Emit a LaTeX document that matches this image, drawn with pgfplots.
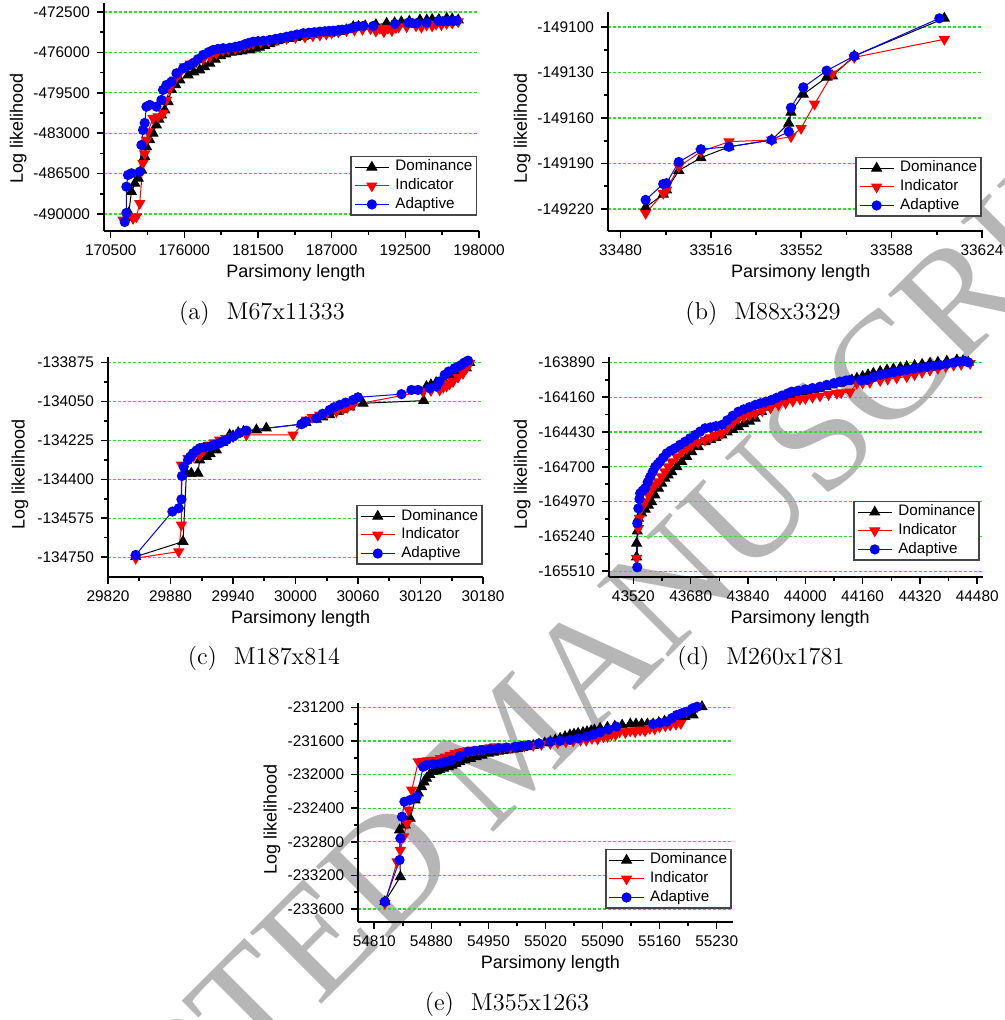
\documentclass[border=0pt]{standalone}
\usepackage{fontspec}
\newfontfamily\arial{Liberation Sans}
\newfontfamily\wmfont{Liberation Serif}
\usepackage{pgfplots}
\pgfplotsset{compat=1.18}
\definecolor{gridgreen}{RGB}{40,225,40}
\definecolor{legdraw}{RGB}{70,70,70}
\definecolor{wmgray}{RGB}{182,182,182}
\pgfplotsset{
  base/.style={
    scale only axis,
    axis x line*=bottom, axis y line*=left,
    axis line style={line width=1pt,-},
    x axis line style={-}, y axis line style={-},
    tick align=outside,
    major tick length=3.5pt, minor tick length=2pt,
    every tick/.style={black,line width=0.8pt},
    minor x tick num=1, minor y tick num=1,
    ymajorgrids,
    major grid style={gridgreen, dash pattern=on 1.5pt off 1pt, line width=0.6pt},
    /pgf/number format/.cd, fixed, precision=1, 1000 sep={}, assume math mode=true,
    /pgfplots/.cd,
    scaled ticks=false,
    tick label style={font=\arial\fontsize{7.7}{8}\selectfont},
    label style={font=\arial\fontsize{9}{10}\selectfont},
    xlabel={Parsimony length}, ylabel={Log likelihood},
    legend cell align=left,
    legend style={font=\arial\fontsize{7.6}{8}\selectfont, draw=legdraw, line width=0.8pt,
      inner xsep=1.5pt, inner ysep=1.2pt, row sep=1pt, column sep=2.5pt, anchor=south east,
      nodes={inner sep=0.5pt, text height=5.5pt, text depth=1.8pt}},
  },
  dom/.style={black, line width=0.5pt, mark=triangle*, mark size=2.8pt, mark options={solid,fill=black}},
  ind/.style={red, line width=0.5pt, mark=triangle*, mark size=2.8pt, mark options={solid,fill=red,rotate=180}},
  ada/.style={blue, line width=0.5pt, mark=*, mark size=2.3pt, mark options={solid,fill=blue}},
}
\begin{document}
\begin{tikzpicture}
\path[use as bounding box] (0,0) rectangle (502pt,510pt);
\begin{scope}
\clip (0,0) rectangle (502pt,510pt);
\node[text=wmgray, rotate=45, anchor=center, inner sep=0pt] at (255.5pt,138pt) {\wmfont\fontsize{77}{77}\selectfont ACCEPTED MANUSCRIPT};
\end{scope}
% ---------------- (a)
\begin{axis}[base, at={(52pt,394.5pt)}, anchor=south west, width=187.5pt, height=114pt,
  xmin=170000, xmax=198000, ymin=-491465, ymax=-471720,
  xtick={170500,176000,181500,187000,192500,198000},
  ytick={-490000,-486500,-483000,-479500,-476000,-472500},
  xlabel style={at={(axis description cs:0.512,-0.184)}, anchor=center},
  ylabel style={at={(axis description cs:-0.229,0.45)}, anchor=center},
  legend style={at={(axis description cs:0.995,0.066)}}]
\addplot[dom] coordinates {
(171650,-490300) (171850,-489900) (172050,-488060) (172300,-487340) (172550,-486900)
(172800,-486180) (173040,-485030) (173170,-484170) (173410,-483580) (173660,-483000)
(173910,-482290) (174100,-481800) (174290,-481420) (174540,-480990) (174780,-480270)
(175040,-479250) (175350,-478800) (175660,-478390) (176280,-477960) (176700,-477700)
(177150,-477520) (177500,-477250) (177900,-476940) (178300,-476600) (178700,-476300)
(179100,-476150) (179500,-476000) (179900,-475950) (180300,-475880) (180890,-475790)
(181300,-475650) (181600,-475550) (182000,-475400) (182380,-475250) (182700,-475100)
(183000,-475000) (183400,-474900) (183800,-474800) (184300,-474720) (184870,-474640)
(185300,-474550) (185800,-474450) (186300,-474400) (186870,-474340) (187300,-474270)
(187700,-474200) (188100,-474050) (188610,-473770) (189000,-473740) (189500,-473700)
(190300,-473600) (191100,-473480) (191700,-473440) (192200,-473350) (192800,-473300)
(193590,-473190) (194100,-473200) (194500,-473150) (195000,-473150) (195590,-473050)
(196000,-473100) (196450,-473190)};
\addplot[ind] coordinates {
(171420,-490510) (172170,-490370) (172420,-490230) (172670,-489070) (172910,-485600)
(173040,-484780) (173170,-483580) (173290,-482870) (173660,-481700) (174040,-481570)
(174410,-481270) (174660,-480120) (174910,-479110) (175280,-478390) (175650,-477800)
(176030,-477240) (176450,-477000) (176900,-476800) (177400,-476580) (177900,-476370)
(178400,-476080) (178890,-475790) (179300,-475720) (179800,-475650) (180150,-475520)
(180500,-475400) (180800,-475300) (181130,-475210) (181700,-475100) (182300,-475000)
(182900,-474900) (183630,-474780) (184300,-474700) (185000,-474650) (185600,-474560)
(186120,-474490) (186600,-474400) (187000,-474300) (187500,-474220) (188110,-474120)
(188700,-474060) (189300,-474000) (189900,-473950) (190300,-474150) (190600,-473910)
(190900,-474200) (191200,-473900) (191500,-474100) (191800,-473850) (192000,-473800)
(192600,-473770) (193300,-473700) (193700,-473800) (194090,-473630) (194500,-473700)
(194800,-473550) (195200,-473600) (195590,-473480) (196000,-473450) (196450,-473340)};
\addplot[ada] coordinates {
(171546,-490686) (171673,-489900) (171673,-487630) (171793,-486616) (172047,-486470)
(172667,-486330) (172794,-484020) (172914,-482720) (173041,-482110) (173168,-480700)
(173414,-480550) (173915,-480700) (174289,-480120) (174408,-479250) (174662,-478820)
(175036,-478540) (175410,-477810) (175903,-477380) (176300,-477150) (176650,-476940)
(177000,-476600) (177398,-476220) (177800,-475980) (178145,-475790) (178500,-475700)
(178900,-475640) (179393,-475600) (179800,-475520) (180140,-475440) (180500,-475300)
(180800,-475180) (181134,-475070) (181500,-475030) (181900,-474990) (182382,-474920)
(182800,-474830) (183200,-474740) (183630,-474640) (184000,-474550) (184400,-474450)
(184871,-474340) (185300,-474290) (185700,-474250) (186118,-474200) (186500,-474170)
(186800,-474140) (187112,-474120) (187500,-474070) (187800,-474030) (188114,-474000)
(188500,-473880) (188861,-473770) (189354,-473710) (190102,-473710) (191723,-473540)
(192717,-473430) (193000,-473460) (193345,-473480) (194093,-473430) (194959,-473280)
(195300,-473300) (195700,-473290) (196080,-473280) (196334,-473250)};
\legend{Dominance,Indicator,Adaptive}
\end{axis}
% ---------------- (b)
\begin{axis}[base, at={(304pt,394.5pt)}, anchor=south west, width=187.5pt, height=109.5pt,
  xmin=33475, xmax=33624.4, ymin=-149234.5, ymax=-149090.1,
  xtick={33480,33516,33552,33588,33624},
  ytick={-149220,-149190,-149160,-149130,-149100},
  xlabel style={at={(axis description cs:0.514,-0.19)}, anchor=center},
  ylabel style={at={(axis description cs:-0.229,0.466)}, anchor=center},
  legend style={at={(axis description cs:0.997,0.064)}}]
\addplot[dom] coordinates {
(33490,-149218.9) (33497,-149210.3) (33498.3,-149207.5) (33503.2,-149194.7) (33512,-149186.2)
(33523.2,-149179) (33540.2,-149174.5) (33547,-149163.5) (33547.9,-149156.2) (33552.8,-149144.4)
(33562.1,-149133.2) (33564.4,-149132.3) (33573.1,-149119.1) (33609,-149094.3)};
\addplot[ind] coordinates {
(33490,-149222.8) (33497,-149209.6) (33498.3,-149207.5) (33503.2,-149192.1) (33512,-149182.2)
(33523.2,-149175.6) (33540.2,-149174.5) (33547.9,-149172.3) (33551.9,-149166.8) (33557.3,-149150.8)
(33564.4,-149131) (33573.1,-149120) (33609,-149108.1)};
\addplot[ada] coordinates {
(33490,-149214) (33497,-149203.5) (33498.3,-149203) (33503.2,-149189) (33512,-149180.6)
(33523.2,-149179) (33540.2,-149174.5) (33547,-149169) (33547.9,-149153.2) (33552.8,-149139.8)
(33562.1,-149128.8) (33573.1,-149119.1) (33607,-149094.3)};
\legend{Dominance,Indicator,Adaptive}
\end{axis}
% ---------------- (c)
\begin{axis}[base, at={(54pt,221.65pt)}, anchor=south west, width=187.5pt, height=109.7pt,
  xmin=29820, xmax=30180, ymin=-134838, ymax=-133851,
  xtick={29820,29880,29940,30000,30060,30120,30180},
  ytick={-134750,-134575,-134400,-134225,-134050,-133875},
  xlabel style={at={(axis description cs:0.514,-0.19)}, anchor=center},
  ylabel style={at={(axis description cs:-0.235,0.468)}, anchor=center},
  legend style={at={(axis description cs:1.0,0.053)}}]
\addplot[dom] coordinates {
(29846.6,-134748) (29892,-134680) (29895.3,-134373) (29900,-134373) (29906.4,-134373)
(29908,-134313) (29914.5,-134298) (29918,-134285) (29924,-134268) (29930,-134235)
(29936.8,-134200) (29940,-134205) (29945,-134190) (29950,-134185) (29962.5,-134178)
(29972,-134170) (30005.7,-134152) (30010,-134145) (30020,-134130) (30026,-134120)
(30032.8,-134110) (30040,-134095) (30045,-134085) (30052,-134075) (30064.8,-134058)
(30123,-134046) (30125.7,-133983) (30130,-133975) (30135,-133965) (30142,-133950)
(30148,-133930) (30152,-133920) (30156,-133915) (30160,-133905) (30164,-133900)
(30167.2,-133875)};
\addplot[ind] coordinates {
(29846.6,-134755) (29887.9,-134725) (29890.5,-134605) (29890.5,-134335) (29896.8,-134305)
(29902,-134297) (29908,-134290) (29912,-134268) (29917.6,-134245) (29922,-134235)
(29927.2,-134223) (29933,-134215) (29940,-134208) (29952.9,-134200) (29997.6,-134200)
(30010.5,-134133) (30016,-134120) (30023.2,-134110) (30030,-134102) (30039.3,-134095)
(30046,-134082) (30050,-134075) (30055.2,-134065) (30122.4,-134005) (30130,-134000)
(30138.4,-133998) (30142,-133985) (30145,-133980) (30148,-133970) (30151.2,-133960)
(30156,-133940) (30160.8,-133923) (30164,-133900) (30167.2,-133878)};
\addplot[ada] coordinates {
(29846.6,-134740) (29881.8,-134545) (29887.9,-134530) (29890.5,-134490) (29891,-134385)
(29892.7,-134343) (29896.8,-134313) (29899,-134298) (29901.6,-134283) (29905,-134270)
(29908,-134260) (29912,-134256) (29917.6,-134253) (29922,-134245) (29927.2,-134238)
(29930,-134230) (29934,-134222) (29940,-134208) (29946,-134192) (29952.9,-134181)
(30005.7,-134152) (30010,-134140) (30020,-134125) (30026,-134105) (30032.8,-134088)
(30037,-134076) (30042.4,-134065) (30048,-134055) (30055.2,-134043) (30060,-134031)
(30101.7,-134017) (30111.3,-133998) (30117.6,-133998) (30128.8,-133990) (30135.3,-133983)
(30138,-133960) (30143.2,-133930) (30147,-133915) (30152.8,-133900) (30156,-133893)
(30159.3,-133885) (30162,-133875) (30165.6,-133866)};
\legend{Dominance,Indicator,Adaptive}
\end{axis}
% ---------------- (d)
\begin{axis}[base, at={(304.5pt,221.65pt)}, anchor=south west, width=187pt, height=109.7pt,
  xmin=43452, xmax=44496, ymin=-165553, ymax=-163851,
  xtick={43520,43680,43840,44000,44160,44320,44480},
  ytick={-165510,-165240,-164970,-164700,-164430,-164160,-163890},
  xlabel style={at={(axis description cs:0.511,-0.19)}, anchor=center},
  ylabel style={at={(axis description cs:-0.232,0.468)}, anchor=center},
  legend style={at={(axis description cs:0.992,0.072)}}]
\addplot[dom] coordinates {
(43529,-165400) (43529,-165294) (43531,-165200) (43534,-165100) (43543,-165060)
(43553,-165030) (43562,-165000) (43571,-164972) (43580,-164920) (43590,-164867)
(43599,-164828) (43608,-164790) (43617,-164765) (43627,-164739) (43641,-164700)
(43655,-164661) (43669,-164622) (43683,-164584) (43701,-164545) (43720,-164506)
(43735,-164490) (43750,-164473) (43767,-164454) (43782,-164432) (43797,-164411)
(43813,-164390) (43828,-164368) (43844,-164347) (43860,-164325) (43878,-164273)
(43895,-164240) (43912,-164205) (43930,-164170) (43950,-164160) (43970,-164148)
(43990,-164133) (44005,-164120) (44023,-164105) (44040,-164093) (44058,-164080)
(44075,-164066) (44095,-164053) (44116,-164040) (44130,-164027) (44144,-164014)
(44160,-164000) (44175,-163987) (44190,-163975) (44209,-163962) (44228,-163950)
(44246,-163941) (44265,-163932) (44283,-163924) (44305,-163915) (44326,-163906)
(44348,-163898) (44370,-163890) (44395,-163882) (44423,-163872) (44440,-163880)
(44455,-163890)};
\addplot[ind] coordinates {
(43529,-165410) (43534,-165178) (43537,-165100) (43539,-165036) (43546,-165000)
(43553,-164972) (43562,-164920) (43571,-164867) (43580,-164840) (43590,-164816)
(43599,-164778) (43608,-164739) (43617,-164700) (43627,-164661) (43641,-164622)
(43655,-164584) (43669,-164558) (43683,-164532) (43701,-164512) (43720,-164493)
(43735,-164475) (43750,-164458) (43767,-164441) (43782,-164400) (43797,-164362)
(43813,-164325) (43828,-164312) (43844,-164299) (43860,-164286) (43880,-164266)
(43903,-164244) (43925,-164221) (43945,-164205) (43965,-164190) (43985,-164175)
(44000,-164170) (44020,-164160) (44041,-164150) (44065,-164140) (44088,-164130)
(44100,-164125) (44125,-164120) (44144,-164053) (44160,-164050) (44180,-164045)
(44209,-164030) (44230,-164020) (44255,-164010) (44283,-164001) (44305,-163985)
(44326,-163967) (44348,-163950) (44370,-163937) (44392,-163924) (44414,-163911)
(44435,-163905) (44460,-163898)};
\addplot[ada] coordinates {
(43531,-165480) (43531,-165139) (43534,-165023) (43537,-164950) (43539,-164906)
(43546,-164885) (43553,-164867) (43560,-164820) (43567,-164778) (43574,-164740)
(43581,-164700) (43588,-164680) (43594,-164661) (43603,-164630) (43613,-164596)
(43624,-164575) (43636,-164557) (43650,-164530) (43664,-164506) (43678,-164480)
(43692,-164454) (43706,-164428) (43720,-164402) (43735,-164395) (43750,-164385)
(43767,-164376) (43782,-164340) (43797,-164305) (43813,-164273) (43828,-164255)
(43844,-164238) (43860,-164221) (43875,-164208) (43890,-164195) (43906,-164182)
(43920,-164165) (43935,-164148) (43950,-164132) (43962,-164118) (43980,-164110)
(44000,-164100) (44020,-164090) (44041,-164079) (44060,-164065) (44080,-164052)
(44097,-164040) (44112,-164033) (44125,-164027) (44155,-164030) (44172,-164027)
(44190,-164005) (44209,-163988) (44228,-163978) (44246,-163968) (44265,-163958)
(44283,-163950) (44302,-163940) (44320,-163932) (44339,-163925) (44358,-163918)
(44376,-163911) (44395,-163902) (44414,-163893) (44432,-163885) (44445,-163880)
(44455,-163890)};
\legend{Dominance,Indicator,Adaptive}
\end{axis}
% ---------------- (e)
\begin{axis}[base, at={(179.15pt,49.15pt)}, anchor=south west, width=187.5pt, height=109.5pt,
  xmin=54790.4, xmax=55250.4, ymin=-233751, ymax=-231145,
  xtick={54810,54880,54950,55020,55090,55160,55230},
  ytick={-233600,-233200,-232800,-232400,-232000,-231600,-231200},
  xlabel style={at={(axis description cs:0.512,-0.193)}, anchor=center},
  ylabel style={at={(axis description cs:-0.23,0.469)}, anchor=center},
  legend style={at={(axis description cs:0.996,0.058)}}]
\addplot[dom] coordinates {
(54823,-233513) (54842,-233216) (54841,-232660) (54848,-232600) (54854,-232521)
(54860,-232303) (54864,-232220) (54868,-232145) (54871,-232090) (54874,-232045)
(54878,-232000) (54882,-231966) (54886,-231952) (54890,-231940) (54895,-231925)
(54901,-231907) (54905,-231890) (54910,-231870) (54915,-231850) (54921,-231827)
(54928,-231810) (54935,-231790) (54942,-231770) (54950,-231748) (54956,-231735)
(54962,-231725) (54968,-231716) (54974,-231708) (54980,-231700) (54986,-231690)
(54992,-231680) (54999,-231669) (55005,-231655) (55012,-231640) (55019,-231625)
(55026,-231609) (55032,-231590) (55038,-231570) (55044,-231550) (55050,-231530)
(55055,-231520) (55060,-231510) (55066,-231500) (55071,-231490) (55076,-231480)
(55080,-231470) (55087,-231450) (55096,-231438) (55105,-231425) (55114,-231412)
(55124,-231399) (55131,-231399) (55138,-231399) (55145,-231399) (55152,-231399)
(55159,-231382) (55166,-231365) (55174,-231348) (55181,-231331) (55191,-231311)
(55201,-231292) (55212,-231193)};
\addplot[ind] coordinates {
(54823,-233533) (54838,-233037) (54842,-232900) (54846,-232740) (54850,-232580)
(54852,-232422) (54856,-232184) (54864,-231847) (54870,-231840) (54875,-231835)
(54880,-231831) (54885,-231827) (54891,-231808) (54897,-231790) (54903,-231770)
(54909,-231748) (54915,-231735) (54920,-231725) (54925,-231716) (54930,-231708)
(54938,-231700) (54945,-231690) (54952,-231680) (54958,-231669) (54964,-231680)
(54970,-231669) (54977,-231675) (54983,-231669) (54994,-231660) (55005,-231650)
(55015,-231640) (55026,-231629) (55035,-231620) (55045,-231610) (55054,-231600)
(55063,-231589) (55070,-231590) (55077,-231570) (55084,-231575) (55091,-231549)
(55096,-231545) (55101,-231520) (55106,-231525) (55111,-231490) (55118,-231500)
(55124,-231480) (55130,-231490) (55136,-231470) (55142,-231480) (55148,-231450)
(55154,-231455) (55160,-231431) (55167,-231420) (55173,-231410) (55180,-231400)
(55186,-231391) (55193,-231252) (55206,-231193)};
\addplot[ada] coordinates {
(54823,-233513) (54841,-233017) (54842,-232759) (54844,-232502) (54847,-232323)
(54854,-232303) (54862,-232264) (54870,-231907) (54874,-231887) (54882,-231875)
(54891,-231866) (54898,-231846) (54905,-231827) (54915,-231780) (54925,-231728)
(54933,-231718) (54942,-231708) (54952,-231698) (54962,-231688) (54972,-231678)
(54983,-231669) (54991,-231659) (54999,-231649) (55012,-231630) (55026,-231609)
(55038,-231599) (55050,-231589) (55060,-231570) (55071,-231549) (55079,-231523)
(55087,-231497) (55097,-231465) (55107,-231431) (55152,-231399) (55160,-231385)
(55169,-231371) (55175,-231330) (55181,-231292) (55187,-231272) (55193,-231252)
(55200,-231215) (55206,-231193)};
\legend{Dominance,Indicator,Adaptive}
\end{axis}
% ---------------- captions
\node[anchor=base] at (131pt,350pt) {\fontsize{12.2}{14}\selectfont (a)\hspace{0.37em} M67x11333};
\node[anchor=base] at (381.5pt,350pt) {\fontsize{12.2}{14}\selectfont (b)\hspace{0.37em} M88x3329};
\node[anchor=base] at (132pt,177.5pt) {\fontsize{12.2}{14}\selectfont (c)\hspace{0.37em} M187x814};
\node[anchor=base] at (380.5pt,177.5pt) {\fontsize{12.2}{14}\selectfont (d)\hspace{0.37em} M260x1781};
\node[anchor=base] at (253.5pt,5pt) {\fontsize{12.2}{14}\selectfont (e)\hspace{0.37em} M355x1263};
\end{tikzpicture}
\end{document}
